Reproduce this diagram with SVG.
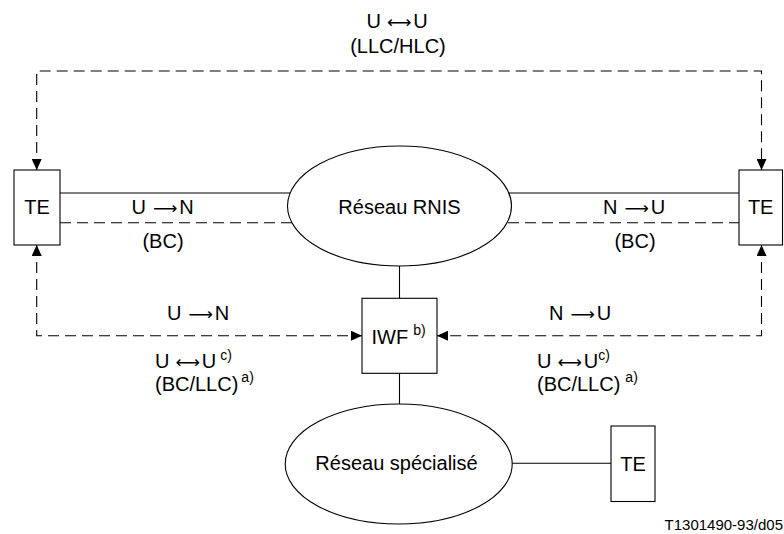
<svg xmlns="http://www.w3.org/2000/svg" width="784" height="534" viewBox="0 0 784 534">
<style>
text{font-family:"Liberation Sans",Arial,sans-serif;font-size:20px;fill:#000}
.c{text-anchor:middle}
.sup{font-size:14px}
.arr{font-family:"DejaVu Sans",sans-serif;font-size:17px}
.small{font-size:15px}
.box{fill:#fff;stroke:#000;stroke-width:1.1}
.solid{fill:none;stroke:#000;stroke-width:1.1}
.dash{fill:none;stroke:#000;stroke-width:1.1;stroke-dasharray:11 6}
</style>
<defs>
<marker id="ah" viewBox="0 0 11 10" refX="11" refY="5" markerWidth="11" markerHeight="10" markerUnits="userSpaceOnUse" orient="auto-start-reverse">
<path d="M0,0 L11,5 L0,10 z" fill="#000"/>
</marker>
</defs>
<g id="connectors">
<path class="dash" d="M36.7,170 V71 H761.5 V170" marker-start="url(#ah)" marker-end="url(#ah)"/>
<path class="dash" d="M36.7,245 V335.7 H362" marker-start="url(#ah)" marker-end="url(#ah)"/>
<path class="dash" d="M761.5,245 V335.7 H437" marker-start="url(#ah)" marker-end="url(#ah)"/>
<path class="solid" d="M60,193 H292"/>
<path class="dash" d="M60,222.7 H292"/>
<path class="solid" d="M508,193 H739"/>
<path class="dash" d="M508,222.7 H739"/>
<path class="solid" d="M399.5,265 V298.3"/>
<path class="solid" d="M399.5,373.3 V404"/>
<path class="solid" d="M512,463.3 H611"/>
</g>
<g id="labels">
<text x="366.5" y="28">U<tspan class="arr" dx="6">⟷</tspan><tspan dx="2">U</tspan></text>
<text class="c" x="398" y="53">(LLC/HLC)</text>
<text x="131.5" y="214">U<tspan class="arr" dx="7">⟶</tspan><tspan dx="2">N</tspan></text>
<text class="c" x="163" y="248">(BC)</text>
<text x="603" y="214">N<tspan class="arr" dx="7">⟶</tspan><tspan dx="2">U</tspan></text>
<text class="c" x="635" y="248">(BC)</text>
<text x="167" y="320">U<tspan class="arr" dx="7">⟶</tspan><tspan dx="2">N</tspan></text>
<text x="549" y="320">N<tspan class="arr" dx="7">⟶</tspan><tspan dx="2">U</tspan></text>
<text x="155" y="368">U<tspan class="arr" dx="6">⟷</tspan><tspan dx="2">U</tspan><tspan class="sup" dx="4" dy="-8">c)</tspan></text>
<text x="155" y="391">(BC/LLC)<tspan class="sup" dx="3" dy="-9">a)</tspan></text>
<text x="537" y="368">U<tspan class="arr" dx="6">⟷</tspan><tspan dx="2">U</tspan><tspan class="sup" dy="-8">c)</tspan></text>
<text x="537" y="391">(BC/LLC)<tspan class="sup" dx="5" dy="-9">a)</tspan></text>
<text class="small" x="783" y="530" text-anchor="end">T1301490-93/d05</text>
</g>
<g id="te-left">
<rect class="box" x="14" y="170" width="46" height="75"/>
<text class="c" x="37" y="214">TE</text>
</g>
<g id="te-right">
<rect class="box" x="739" y="170" width="43.5" height="75"/>
<text class="c" x="760.7" y="214">TE</text>
</g>
<g id="rnis">
<ellipse class="box" cx="399.5" cy="206" rx="112" ry="60"/>
<text class="c" x="399.5" y="214">Réseau RNIS</text>
</g>
<g id="iwf">
<rect class="box" x="362" y="298.3" width="75" height="75"/>
<text x="371.5" y="343.5">IWF<tspan class="sup" dx="5" dy="-9">b)</tspan></text>
</g>
<g id="specialise">
<ellipse class="box" cx="398.7" cy="464" rx="113.5" ry="60"/>
<text class="c" x="396.5" y="470">Réseau spécialisé</text>
</g>
<g id="te-bottom">
<rect class="box" x="611" y="426" width="44" height="75.5"/>
<text class="c" x="633" y="470.5">TE</text>
</g>
</svg>
